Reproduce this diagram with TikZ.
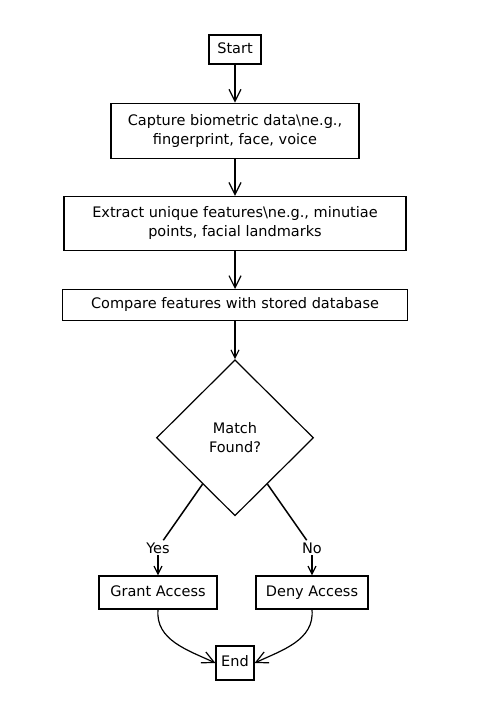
\documentclass[tikz,border=0pt]{standalone}
\usepackage{fontspec}
\setmainfont{DejaVu Sans}
\usepackage{tikz}
\usetikzlibrary{positioning}
\usetikzlibrary{arrows.meta}
\usetikzlibrary{shapes.geometric}
\def\thickness{very thick}
\tikzset{
box/.style 2 args={draw, \thickness, minimum width=#1, minimum height=#2,
	inner sep=0pt, align=center, font=\fontsize{14.5}{19}\selectfont},
oneline/.style={text height=0.73em, text depth=0pt},
decision/.style={draw, diamond, aspect=1, \thickness, minimum width=157pt,
	minimum height=156pt, inner sep=0pt, align=center,
	font=\fontsize{14.5}{19}\selectfont},
flow/.style={\thickness, -{Straight Barb[length=12pt,width=12pt]}},
smallflow/.style={\thickness, -{Straight Barb[length=8pt,width=8pt]}},
branch/.style={line width=1.5pt},
edgelabel/.style={fill=white, inner sep=2pt, font=\fontsize{14.5}{17}\selectfont},
}

\begin{document}
\begin{tikzpicture}[x=1pt, y=1pt]
\useasboundingbox (0,0) rectangle (478,-703);
\node[box={52pt}{29pt}, oneline] (start) at (235,-49.5) {Start};
\node[box={248pt}{55pt}, below=38pt of start] (cap) {Capture biometric data\textbackslash{}ne.g.,\\fingerprint, face, voice};
\node[box={342pt}{54pt}, below=37pt of cap] (ext) {Extract unique features\textbackslash{}ne.g., minutiae\\points, facial landmarks};
\node[box={345pt}{31pt}, oneline, below=38pt of ext] (cmp) {Compare features with stored database};
\node[decision, below=38pt of cmp] (dec) {Match\\Found?};

\node[box={118pt}{33pt}, oneline, below=59pt of dec, xshift=-77pt] (grant) {Grant Access};
\node[box={112pt}{33pt}, oneline, below=59pt of dec, xshift=77pt] (deny) {Deny Access};
\node[box={38pt}{34pt}, oneline, below=129pt of dec] (end) {End};

\node[edgelabel, above=20pt of grant] (yes) {Yes};
\node[edgelabel, above=20pt of deny] (no) {No};

%
\draw[flow] (start) -- (cap);
\draw[flow] (cap) -- (ext);
\draw[flow] (ext) -- (cmp);
\draw[smallflow] (cmp) -- (dec);

%
\draw[branch] (dec.-125) -- (yes);
\draw[smallflow] (yes) -- (grant);
\draw[branch] (dec.-55) -- (no);
\draw[smallflow] (no) -- (deny);

%
\draw[flow] (grant.south) to[out=-95, in=155] (end.west);
\draw[flow] (deny.south) to[out=-85, in=25] (end.east);
\end{tikzpicture}
\end{document}
